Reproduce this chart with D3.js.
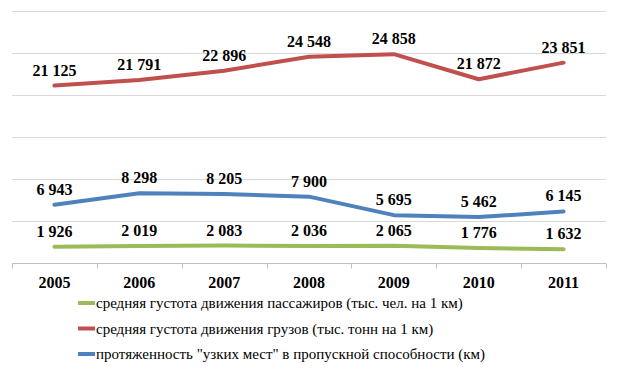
<!DOCTYPE html>
<html>
<head>
<meta charset="utf-8">
<script src="https://cdn.jsdelivr.net/npm/d3@7"></script>
<style>
  body { margin: 0; background: #fff; }
  svg text { font-family: "Liberation Serif", Tinos, "Times New Roman", serif !important; }
</style>
</head>
<body>
<svg id="chart" width="618" height="372"></svg>
<script>
var years = ['2005', '2006', '2007', '2008', '2009', '2010', '2011'];
var passengers = [1926, 2019, 2083, 2036, 2065, 1776, 1632];
var cargo = [21125, 21791, 22896, 24548, 24858, 21872, 23851];
var bottlenecks = [6943, 8298, 8205, 7900, 5695, 5462, 6145];
var yTicks = [0, 5000, 10000, 15000, 20000, 25000, 30000];

var series = [
    { name: 'средняя густота движения пассажиров (тыс. чел. на 1 км)', values: passengers, color: '#9bbb59' },
    { name: 'средняя густота движения грузов (тыс. тонн на 1 км)', values: cargo, color: '#c0504d' },
    { name: 'протяженность "узких мест" в пропускной способности (км)', values: bottlenecks, color: '#4f81bd' }
];

var svg = d3.select('#chart');

var x = d3.scaleBand().domain(years).range([12, 606]);
var y = d3.scaleLinear().domain([0, 30000]).range([263, 11]);

// gridlines
svg.selectAll('line.grid')
    .data(yTicks.slice(1))
    .enter().append('line')
    .attr('class', 'grid')
    .attr('x1', 12).attr('x2', 606)
    .attr('y1', function(d) { return y(d) + 0.5 })
    .attr('y2', function(d) { return y(d) + 0.5 })
    .attr('stroke', '#d9d9d9');

// x axis
var y0 = y(0) + 0.5;
svg.append('line').attr('x1', 12).attr('x2', 606).attr('y1', y0).attr('y2', y0).attr('stroke', '#bfbfbf');
svg.selectAll('line.tick')
    .data(years.concat(['end']))
    .enter().append('line')
    .attr('class', 'tick')
    .attr('x1', function(d, i) { return Math.round(12 + i * x.step()) + 0.5 })
    .attr('x2', function(d, i) { return Math.round(12 + i * x.step()) + 0.5 })
    .attr('y1', y0).attr('y2', y0 + 5)
    .attr('stroke', '#bfbfbf');
svg.selectAll('text.year')
    .data(years)
    .enter().append('text')
    .attr('class', 'year')
    .attr('x', function(d) { return x(d) + x.bandwidth() / 2 })
    .attr('y', y0 + 24)
    .attr('text-anchor', 'middle')
    .attr('font-size', 16)
    .attr('font-weight', 'bold')
    .text(function(d) { return d });

var cx = function(d, i) { return x(years[i]) + x.bandwidth() / 2 };
var line = d3.line().x(cx).y(function(d) { return y(d) });
var fmt = function(v) { return d3.format(',')(v).replace(',', ' ') };

series.forEach(function(s, k) {
    svg.append('path')
	.datum(s.values)
	.attr('d', line)
	.attr('fill', 'none')
	.attr('stroke', s.color)
	.attr('stroke-width', 4)
	.attr('stroke-linecap', 'round')
	.attr('stroke-linejoin', 'round');
    svg.selectAll('text.val' + k)
	.data(s.values)
	.enter().append('text')
	.attr('class', 'val' + k)
	.attr('x', cx)
	.attr('y', function(d) { return y(d) - 10 })
	.attr('text-anchor', 'middle')
	.attr('font-size', 16)
	.attr('font-weight', 'bold')
	.text(fmt);
});

// legend
series.forEach(function(s, i) {
    var ly = 303 + i * 25.5;
    svg.append('line')
	.attr('x1', 78).attr('x2', 95)
	.attr('y1', ly).attr('y2', ly)
	.attr('stroke', s.color)
	.attr('stroke-width', 4);
    svg.append('text')
	.attr('x', 96).attr('y', ly + 5)
	.attr('font-size', 15)
	.text(s.name);
});
</script>
</body>
</html>
